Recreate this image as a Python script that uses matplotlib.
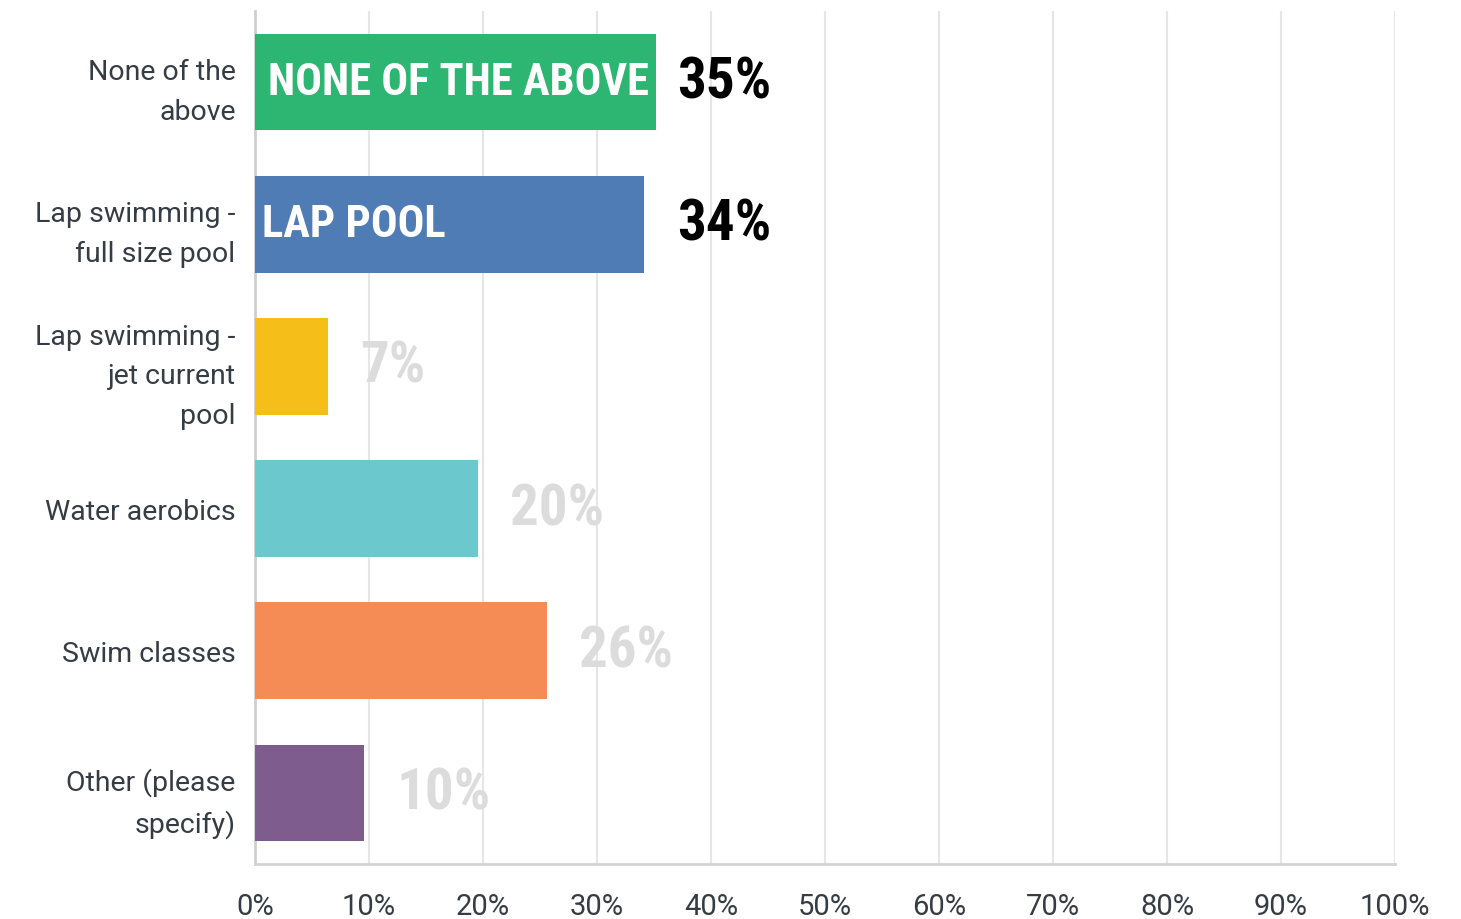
import numpy as np
import matplotlib
matplotlib.use("Agg")
import matplotlib.pyplot as plt
from matplotlib import font_manager

categories = ["None of the\nabove", "Lap swimming -\nfull size pool",
              "Lap swimming -\njet current\npool", "Water aerobics",
              "Swim classes", "Other (please\nspecify)"]
values = [35.2, 34.1, 6.4, 19.6, 25.6, 9.6]
value_labels = ["35%", "34%", "7%", "20%", "26%", "10%"]
inside_labels = ["NONE OF THE ABOVE", "LAP POOL", "", "", "", ""]
highlight = [True, True, False, False, False, False]
colors = ["#2db572", "#507cb6", "#f5be18", "#6bc8cc", "#f68c55", "#7e5d8e"]
xticks = list(range(0, 101, 10))

# pick a narrow font for the big labels if there is one
fonts = font_manager.fontManager.ttflist
names = {f.name for f in fonts}
narrow = None
for cand in ["Roboto Condensed", "Open Sans Condensed", "Liberation Sans Narrow"]:
    if cand in names:
        narrow = dict(family=cand, stretch="normal")
        break
if narrow is None and any(f.name == "DejaVu Sans" and f.stretch == "condensed" for f in fonts):
    narrow = dict(family="DejaVu Sans", stretch="condensed")
if narrow is None:
    narrow = dict(family="DejaVu Sans", stretch="normal")

txt = "#363c44"
fig = plt.figure(figsize=(14.61, 9.2), dpi=100)
ax = fig.add_axes([255/1461, 1-865/920, 1140/1461, 853/920])

y = np.arange(len(categories))
ax.barh(y, values, height=0.68, color=colors, zorder=3)

for i, v in enumerate(values):
    if highlight[i]:
        ax.text(37, i, value_labels[i], ha="left", va="center", color="black",
                fontsize=41, fontweight="bold", fontstretch=narrow["stretch"],
                family=narrow["family"], zorder=4)
    else:
        ax.text(v + 2.8, i, value_labels[i], ha="left", va="center", color="#dcdcdc",
                fontsize=41, fontweight="bold", fontstretch=narrow["stretch"],
                family=narrow["family"], zorder=4)
    if inside_labels[i]:
        ax.text(0.6 if i == 1 else 1.1, i, inside_labels[i], ha="left", va="center",
                color="white", fontsize=32, fontweight="bold",
                fontstretch=narrow["stretch"], family=narrow["family"], zorder=4)

ax.set_xlim(0, 100)
ax.set_ylim(len(categories) - 0.5, -0.5)
ax.set_xticks(xticks)
ax.set_xticklabels([f"{t}%" for t in xticks], family="Roboto", fontsize=21, color=txt)
ax.set_yticks(y)
ax.set_yticklabels(categories, family="Roboto", fontsize=20.5, color=txt,
                   linespacing=1.6, multialignment="right")
ax.tick_params(axis="both", length=0)
ax.tick_params(axis="x", pad=20)
ax.tick_params(axis="y", pad=14)

ax.grid(axis="x", color="#e6e6e6", linewidth=1.5, zorder=0)
ax.grid(axis="y", visible=False)
for s in ["top", "right"]:
    ax.spines[s].set_visible(False)
ax.spines["left"].set_color("#cfcfcf")
ax.spines["left"].set_linewidth(2)
ax.spines["bottom"].set_color("#d3d3d3")
ax.spines["bottom"].set_linewidth(2)

fig.savefig("out.png", dpi=100, facecolor="white")
